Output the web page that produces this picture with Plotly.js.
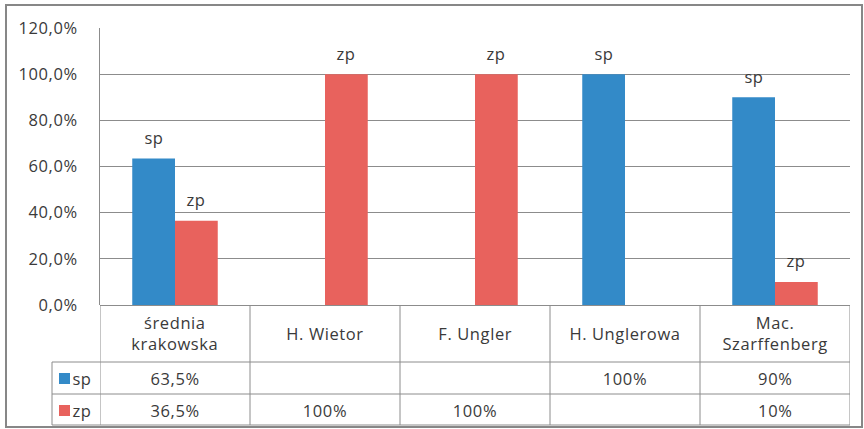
<!DOCTYPE html>
<html>
<head>
<meta charset="utf-8">
<script src="https://cdn.plot.ly/plotly-3.0.1.min.js"></script>
<style>html,body{margin:0;padding:0;background:#fff}#chart{width:864px;height:429px}#chart text{letter-spacing:0.6px}</style>
</head>
<body>
<div id="chart"></div>
<script>
const categories = ["średnia<br>krakowska", "H. Wietor", "F. Ungler", "H. Unglerowa", "Mac.<br>Szarffenberg"];
const seriesNames = ["sp", "zp"];
const spValues = [0.635, null, null, 1.00, 0.90];
const zpValues = [0.365, 1.00, 1.00, null, 0.10];
const yTickVals = [0, 0.2, 0.4, 0.6, 0.8, 1.0, 1.2];

const BLUE = "#338ac8";
const RED = "#e8625d";
const GRID = "#8c8c8c";
const TXT = "#3a3a3a";
const FONT = "'Open Sans', Lato, sans-serif";
const FS = 16.5;

// layout geometry (pixels)
const W = 864, H = 429;
const L = 100, R = 850, T = 28, B = 305;
const PW = R - L, PH = B - T;
const px = x => (x - L) / PW;
const py = y => (B - y) / PH;

function fmt(v) {
  if (v === null || v === undefined) return "";
  const p = Math.round(v * 1000) / 10;
  return (Number.isInteger(p) ? String(p) : p.toFixed(1).replace(".", ",")) + "%";
}

const idx = categories.map((_, i) => i);
const traces = [
  {type: "bar", name: seriesNames[0], x: idx, y: spValues, marker: {color: BLUE}, hoverinfo: "none"},
  {type: "bar", name: seriesNames[1], x: idx, y: zpValues, marker: {color: RED}, hoverinfo: "none"}
];

const annotations = [];
const shapes = [];
const barGap = 0.43;
const barOffsetPx = PW / categories.length * (1 - barGap) / 4;
const font = {family: FONT, size: FS, color: TXT};

// bar labels
[[spValues, seriesNames[0], -1], [zpValues, seriesNames[1], 1]].forEach(([vals, nm, side]) => {
  vals.forEach((v, i) => {
    if (v === null) return;
    annotations.push({x: i, y: v, xref: "x", yref: "y", text: nm, showarrow: false,
      xshift: side * barOffsetPx, yshift: 21, yanchor: "middle", font});
  });
});

// data table text
categories.forEach((c, i) => {
  annotations.push({x: i, y: py(333), xref: "x", yref: "paper", text: c, showarrow: false,
    yanchor: "middle", font});
  annotations.push({x: i, y: py(378), xref: "x", yref: "paper", text: fmt(spValues[i]), showarrow: false,
    yanchor: "middle", font});
  annotations.push({x: i, y: py(410), xref: "x", yref: "paper", text: fmt(zpValues[i]), showarrow: false,
    yanchor: "middle", font});
});
// legend keys in table
[[seriesNames[0], BLUE, 378], [seriesNames[1], RED, 410]].forEach(([nm, col, yc]) => {
  shapes.push({type: "rect", xref: "paper", yref: "paper", x0: px(59), x1: px(70), y0: py(yc - 5), y1: py(yc + 6),
    fillcolor: col, line: {width: 0}});
  annotations.push({x: px(71), y: py(yc), xref: "paper", yref: "paper", text: nm, showarrow: false,
    xanchor: "left", yanchor: "middle", font});
});

const line = {color: GRID, width: 1};
// vertical table lines
for (let i = 0; i <= categories.length; i++) {
  shapes.push({type: "line", xref: "x", yref: "paper", x0: i - 0.5, x1: i - 0.5, y0: 0, y1: py(425), line});
}
// horizontal table lines
[362, 394, 425].forEach(y => {
  shapes.push({type: "line", xref: "paper", yref: "paper", x0: px(52), x1: 1, y0: py(y), y1: py(y), line});
});
// legend column left border
shapes.push({type: "line", xref: "paper", yref: "paper", x0: px(52), x1: px(52), y0: py(362), y1: py(425), line});
// outer chart border
shapes.push({type: "rect", xref: "paper", yref: "paper", x0: px(6), x1: px(862), y0: py(5), y1: py(427),
  line: {color: "#878787", width: 2}, fillcolor: "rgba(0,0,0,0)"});

const layout = {
  width: W, height: H,
  margin: {l: L, r: W - R, t: T, b: H - B, pad: 0},
  paper_bgcolor: "#fff", plot_bgcolor: "#fff",
  separators: ", ",
  barmode: "group", bargap: barGap, bargroupgap: 0,
  showlegend: false,
  xaxis: {range: [-0.5, categories.length - 0.5], showticklabels: false, showgrid: false, zeroline: false,
    showline: false, ticks: "", fixedrange: true},
  yaxis: {range: [0, 1.2], tickvals: yTickVals, tickformat: ".1%", showgrid: true, gridcolor: GRID, gridwidth: 1,
    zeroline: true, zerolinecolor: GRID, zerolinewidth: 1, showline: true, linecolor: GRID, linewidth: 1,
    ticks: "", ticklabelstandoff: 18, tickfont: font, fixedrange: true},
  annotations, shapes
};

Plotly.newPlot("chart", traces, layout, {staticPlot: true});
</script>
</body>
</html>
